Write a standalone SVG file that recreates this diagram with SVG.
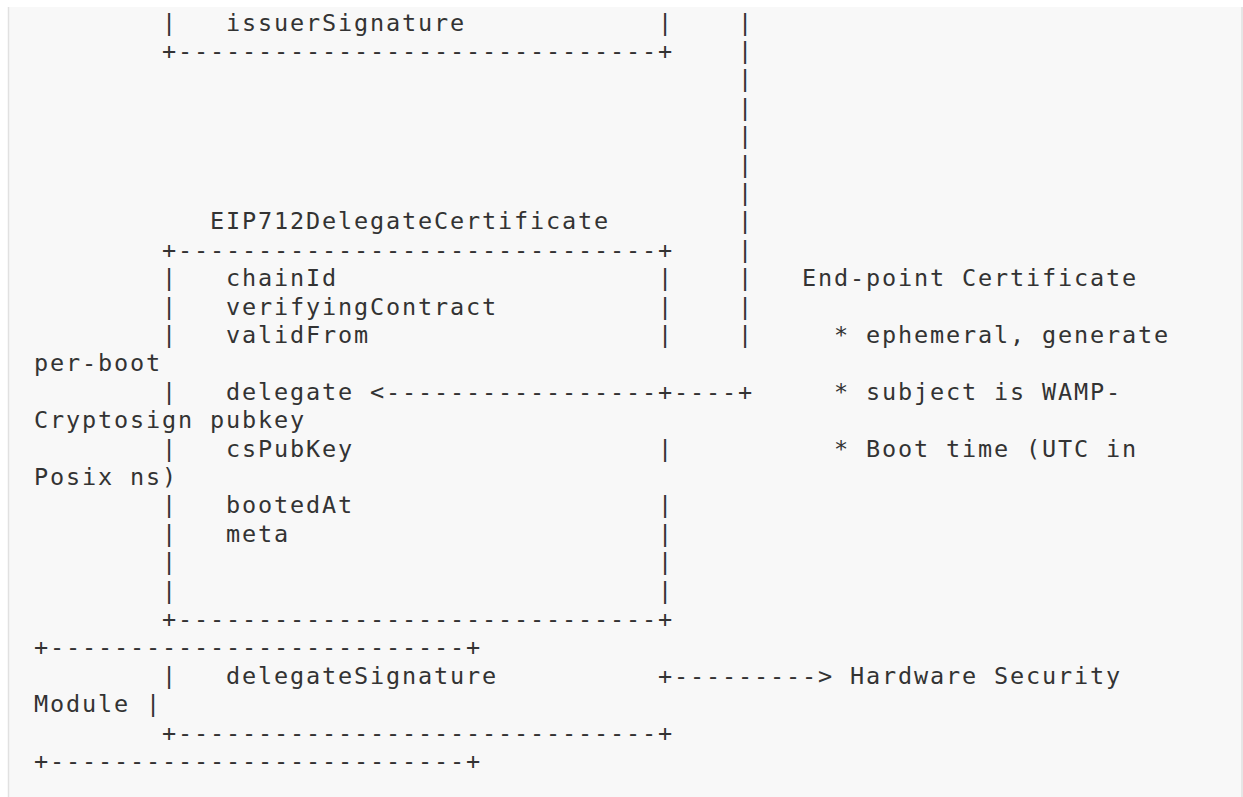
<svg xmlns="http://www.w3.org/2000/svg" width="1243" height="797" viewBox="0 0 1243 797">
<style>
text{font-family:"DejaVu Sans Mono","Liberation Mono",monospace;font-size:23.5px;letter-spacing:1.85px;fill:#333;white-space:pre}
.edge{stroke:#e1e1e1;stroke-width:1.5}
</style>
<rect x="8" y="7" width="1235" height="790" fill="#f8f8f8"/>
<line class="edge" x1="8.5" y1="7" x2="8.5" y2="797"/>
<line class="edge" x1="1242" y1="7" x2="1242" y2="797"/>
<g id="issuer-certificate">
<text x="162" y="30.5">|</text><text x="226" y="30.5">issuerSignature</text><text x="658" y="30.5">|</text>
<text x="162" y="58.9">+------------------------------+</text>
</g>
<g id="eip712-delegate-certificate">
<text x="210" y="229.3">EIP712DelegateCertificate</text>
<text x="162" y="257.7">+------------------------------+</text>
<text x="162" y="286.1">|</text><text x="226" y="286.1">chainId</text><text x="658" y="286.1">|</text>
<text x="162" y="314.5">|</text><text x="226" y="314.5">verifyingContract</text><text x="658" y="314.5">|</text>
<text x="162" y="342.9">|</text><text x="226" y="342.9">validFrom</text><text x="658" y="342.9">|</text>
<text x="162" y="399.7">|</text><text x="226" y="399.7">delegate</text><text x="658" y="399.7">+</text>
<text x="162" y="456.5">|</text><text x="226" y="456.5">csPubKey</text><text x="658" y="456.5">|</text>
<text x="162" y="513.3">|</text><text x="226" y="513.3">bootedAt</text><text x="658" y="513.3">|</text>
<text x="162" y="541.7">|</text><text x="226" y="541.7">meta</text><text x="658" y="541.7">|</text>
<text x="162" y="570.1">|</text><text x="658" y="570.1">|</text>
<text x="162" y="598.5">|</text><text x="658" y="598.5">|</text>
<text x="162" y="626.9">+------------------------------+</text>
<text x="162" y="683.7">|</text><text x="226" y="683.7">delegateSignature</text><text x="658" y="683.7">+</text>
<text x="162" y="740.5">+------------------------------+</text>
</g>
<g id="endpoint-certificate-note">
<text x="802" y="286.1">End-point Certificate</text>
<text x="834" y="342.9">* ephemeral, generate</text>
<text x="34" y="371.3">per-boot</text>
<text x="834" y="399.7">* subject is WAMP-</text>
<text x="34" y="428.1">Cryptosign pubkey</text>
<text x="834" y="456.5">* Boot time (UTC in</text>
<text x="34" y="484.9">Posix ns)</text>
</g>
<g id="hardware-security-module">
<text x="34" y="655.3">+--------------------------+</text>
<text x="850" y="683.7">Hardware Security</text>
<text x="34" y="712.1">Module |</text>
<text x="34" y="768.9">+--------------------------+</text>
</g>
<g id="connectors">
<text x="738" y="30.5">|</text>
<text x="738" y="58.9">|</text>
<text x="738" y="87.3">|</text>
<text x="738" y="115.7">|</text>
<text x="738" y="144.1">|</text>
<text x="738" y="172.5">|</text>
<text x="738" y="200.9">|</text>
<text x="738" y="229.3">|</text>
<text x="738" y="257.7">|</text>
<text x="738" y="286.1">|</text>
<text x="738" y="314.5">|</text>
<text x="738" y="342.9">|</text>
<text x="370" y="399.7">&lt;-----------------</text>
<text x="674" y="399.7">----+</text>
<text x="674" y="683.7">---------&gt;</text>
</g>
</svg>
